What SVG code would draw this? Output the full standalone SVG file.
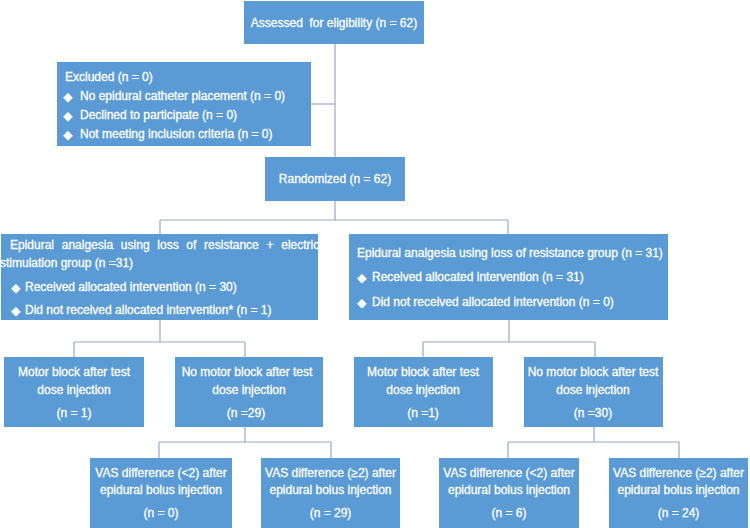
<svg xmlns="http://www.w3.org/2000/svg" width="750" height="528" viewBox="0 0 750 528">
<style>
.box{fill:#5B9BD5;}
.t{font-family:"Liberation Sans",Arial,"DejaVu Sans",sans-serif;font-size:12px;fill:#ffffff;stroke:#ffffff;stroke-width:0.3;}
.c{text-anchor:middle;}
.d{font-family:"DejaVu Sans","Liberation Sans",sans-serif;font-size:12.5px;fill:#ffffff;}
.ln{stroke:#97a9c6;stroke-width:1.2;fill:none;}
</style>
<defs>
<clipPath id="clipL"><rect x="1" y="234" width="317" height="86"/></clipPath>
</defs>
<rect width="750" height="528" fill="#ffffff"/>
<g id="connectors">
<path class="ln" d="M335 44V157"/>
<path class="ln" d="M311 104H335"/>
<path class="ln" d="M335 201V220M160 220H508M160 220V234M508 220V234"/>
<path class="ln" d="M160 320V342M74 342H245M74 342V357M245 342V357"/>
<path class="ln" d="M509 320V342M423 342H595M423 342V357M595 342V357"/>
<path class="ln" d="M245 427V442M159 442H331M159 442V458M331 442V458"/>
<path class="ln" d="M594 427V442M508 442H679M508 442V458M679 442V458"/>
</g>
<g id="assessed">
<rect class="box" x="244" y="1" width="180" height="43"/>
<text class="t c" x="334" y="27">Assessed&#160; for eligibility (n = 62)</text>
</g>
<g id="excluded">
<rect class="box" x="57" y="62" width="254" height="84"/>
<text class="t" x="65" y="81">Excluded (n = 0)</text>
<text class="d" x="63" y="101">◆</text><text class="t" x="80" y="100">No epidural catheter placement (n = 0)</text>
<text class="d" x="63" y="120">◆</text><text class="t" x="80" y="119">Declined to participate (n = 0)</text>
<text class="d" x="63" y="139">◆</text><text class="t" x="80" y="138">Not meeting inclusion criteria (n = 0)</text>
</g>
<g id="randomized">
<rect class="box" x="265" y="157" width="140" height="44"/>
<text class="t c" x="335" y="183">Randomized (n = 62)</text>
</g>
<g id="group-les">
<rect class="box" x="1" y="234" width="317" height="86"/>
<g clip-path="url(#clipL)">
<text class="t" x="10" y="249" word-spacing="4.4">Epidural analgesia using loss of resistance + electric</text>
<text class="t" x="0" y="267">stimulation group (n =31)</text>
</g>
<text class="d" x="11" y="292">◆</text><text class="t" x="25" y="291">Received allocated intervention (n = 30)</text>
<text class="d" x="11" y="315">◆</text><text class="t" x="25" y="314">Did not received allocated intervention* (n = 1)</text>
</g>
<g id="group-lor">
<rect class="box" x="349" y="234" width="319" height="86"/>
<text class="t" x="357" y="257">Epidural analgesia using loss of resistance group (n = 31)</text>
<text class="d" x="357" y="282">◆</text><text class="t" x="372" y="281">Received allocated intervention (n = 31)</text>
<text class="d" x="357" y="307">◆</text><text class="t" x="372" y="306">Did not received allocated intervention (n = 0)</text>
</g>
<g id="les-motor">
<rect class="box" x="4" y="357" width="140" height="70"/>
<text class="t c" x="74" y="376">Motor block after test</text>
<text class="t c" x="74" y="394">dose injection</text>
<text class="t c" x="74" y="417">(n = 1)</text>
</g>
<g id="les-nomotor">
<rect class="box" x="175" y="357" width="148" height="70"/>
<text class="t c" x="247" y="376">No motor block after test</text>
<text class="t c" x="249" y="394">dose injection</text>
<text class="t c" x="246" y="417">(n =29)</text>
</g>
<g id="lor-motor">
<rect class="box" x="354" y="357" width="139" height="70"/>
<text class="t c" x="423" y="376">Motor block after test</text>
<text class="t c" x="423" y="394">dose injection</text>
<text class="t c" x="423" y="417">(n =1)</text>
</g>
<g id="lor-nomotor">
<rect class="box" x="524" y="357" width="139" height="70"/>
<text class="t c" x="593" y="376">No motor block after test</text>
<text class="t c" x="593" y="394">dose injection</text>
<text class="t c" x="593" y="417">(n =30)</text>
</g>
<g id="les-vas-lt2">
<rect class="box" x="90" y="458" width="142" height="70"/>
<text class="t c" x="161" y="477">VAS difference (&lt;2) after</text>
<text class="t c" x="161" y="494">epidural bolus injection</text>
<text class="t c" x="161" y="517">(n = 0)</text>
</g>
<g id="les-vas-ge2">
<rect class="box" x="261" y="458" width="139" height="70"/>
<text class="t c" x="330.5" y="477">VAS difference (≥2) after</text>
<text class="t c" x="330.5" y="494">epidural bolus injection</text>
<text class="t c" x="330.5" y="517">(n = 29)</text>
</g>
<g id="lor-vas-lt2">
<rect class="box" x="439" y="458" width="140" height="70"/>
<text class="t c" x="509" y="477">VAS difference (&lt;2) after</text>
<text class="t c" x="509" y="494">epidural bolus injection</text>
<text class="t c" x="509" y="517">(n = 6)</text>
</g>
<g id="lor-vas-ge2">
<rect class="box" x="609" y="458" width="139" height="70"/>
<text class="t c" x="678.5" y="477">VAS difference (≥2) after</text>
<text class="t c" x="678.5" y="494">epidural bolus injection</text>
<text class="t c" x="678.5" y="517">(n = 24)</text>
</g>
</svg>
